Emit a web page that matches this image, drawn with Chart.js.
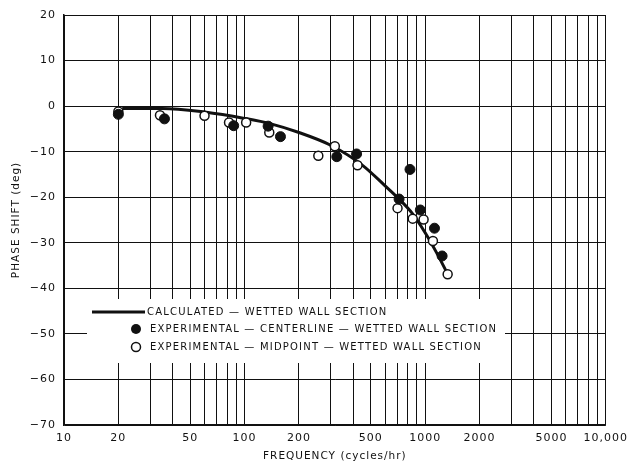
<!DOCTYPE html>
<html>
<head>
<meta charset="utf-8">
<script src="https://cdn.jsdelivr.net/npm/chart.js@4.4.1/dist/chart.umd.min.js"></script>
<style>
  html,body{margin:0;padding:0;background:#fff}
  #wrap{width:632px;height:466px}
</style>
</head>
<body>
<div id="wrap"><canvas id="chartPhase" width="632" height="466"></canvas></div>
<script>
// calculated curve (wetted wall section)
const curveFreq  = [21, 35, 60, 100, 140, 200, 300, 450, 600, 700, 850, 1000, 1150, 1330];
const curvePhase = [-0.5, -0.5, -1.3, -2.7, -3.9, -5.8, -8.6, -13.0, -17.5, -20.0, -23.6, -27.8, -32.0, -36.8];

// experimental, centerline (filled)
const centerFreq  = [20, 36, 87, 135, 158, 324, 417, 717, 824, 940, 1126, 1241];
const centerPhase = [-1.8, -2.8, -4.3, -4.4, -6.7, -11.1, -10.5, -20.4, -13.9, -22.8, -26.8, -32.9];

// experimental, midpoint (open)
const midFreq  = [20, 34, 60, 82, 102, 137, 256, 316, 422, 703, 853, 980, 1104, 1332];
const midPhase = [-1.2, -2.0, -2.1, -3.6, -3.6, -5.8, -10.9, -8.8, -13.0, -22.4, -24.7, -24.9, -29.6, -36.9];

// log paper grid + labelled ticks
const gridFreq = [10,20,30,40,50,60,70,80,90,100,200,300,400,500,600,700,800,900,1000,2000,3000,4000,5000,6000,7000,8000,9000,10000];
const labelFreq = [10,20,50,100,200,500,1000,2000,5000,10000];
const yTicks = [20,10,0,-10,-20,-30,-40,-50,-60,-70];

const legendLabels = [
  'CALCULATED \u2014 WETTED WALL SECTION',
  'EXPERIMENTAL \u2014 CENTERLINE \u2014 WETTED WALL SECTION',
  'EXPERIMENTAL \u2014 MIDPOINT \u2014 WETTED WALL SECTION'
];

const pts = (xs, ys) => xs.map((x,i)=>({x:x, y:ys[i]}));
const FONT = "'DejaVu Sans', sans-serif";
const INK = '#111';

// spaced lettering like the original drawing
const spacing = {
  id:'spacing',
  beforeDraw(chart){ chart.ctx.letterSpacing = '1px'; }
};

// legend box sits inside the plot, covering the grid
const boxLegend = {
  id:'boxLegend',
  beforeDatasetsDraw(chart){
    const ctx = chart.ctx, a = chart.chartArea;
    const x0 = a.left + 23, y0 = a.top + 284;
    ctx.save();
    ctx.fillStyle = '#fff';
    ctx.fillRect(x0, y0, 418, 64);
    ctx.font = '10px ' + FONT;
    ctx.letterSpacing = '1.2px';
    ctx.fillStyle = INK;
    ctx.textBaseline = 'middle';
    // line sample
    ctx.strokeStyle = INK; ctx.lineWidth = 3;
    ctx.beginPath(); ctx.moveTo(x0+5, y0+13); ctx.lineTo(x0+58, y0+13); ctx.stroke();
    ctx.fillText(legendLabels[0], x0+60, y0+13);
    // filled dot
    ctx.beginPath(); ctx.arc(x0+49, y0+30, 5, 0, Math.PI*2); ctx.fill();
    ctx.fillText(legendLabels[1], x0+63, y0+30);
    // open dot
    ctx.lineWidth = 1.5;
    ctx.beginPath(); ctx.arc(x0+49, y0+48, 4.5, 0, Math.PI*2); ctx.stroke();
    ctx.fillText(legendLabels[2], x0+63, y0+48);
    ctx.restore();
  }
};

new Chart(document.getElementById('chartPhase'), {
  type:'scatter',
  data:{
    datasets:[
      { label:legendLabels[0], data:pts(curveFreq, curvePhase), showLine:true,
        borderColor:INK, borderWidth:3, pointRadius:0, cubicInterpolationMode:'monotone', order:3 },
      { label:legendLabels[1], data:pts(centerFreq, centerPhase),
        pointRadius:5, pointBackgroundColor:INK, pointBorderColor:INK, pointBorderWidth:1, order:1 },
      { label:legendLabels[2], data:pts(midFreq, midPhase),
        pointRadius:4.5, pointBackgroundColor:'#fff', pointBorderColor:INK, pointBorderWidth:1.5, order:2 }
    ]
  },
  options:{
    responsive:false, animation:false,
    layout:{ padding:{ top:15, right:21, left:0, bottom:0 } },
    plugins:{ legend:{display:false}, tooltip:{enabled:false} },
    scales:{
      x:{
        type:'logarithmic', min:10, max:10000,
        afterBuildTicks:s=>{ s.ticks = gridFreq.map(v=>({value:v})); },
        afterFit:s=>{ s.height = 41; },
        grid:{ color:INK, lineWidth:1, drawTicks:false },
        border:{ color:INK, width:1.5 },
        ticks:{ autoSkip:false, maxRotation:0, padding:7, color:INK, font:{family:FONT, size:11},
          callback:v=> labelFreq.includes(v) ? (v===10000 ? '10,000' : String(v)) : '' },
        title:{ display:true, text:'FREQUENCY (cycles/hr)', color:INK, font:{family:FONT, size:10.5}, padding:{top:0,bottom:3} }
      },
      y:{
        min:-70, max:20,
        afterBuildTicks:s=>{ s.ticks = yTicks.map(v=>({value:v})); },
        afterFit:s=>{ s.width = 64; },
        grid:{ color:INK, lineWidth:1, drawTicks:false },
        border:{ color:INK, width:1.5 },
        ticks:{ padding:8, color:INK, font:{family:FONT, size:11},
          callback:v=> v<0 ? '\u2212' + Math.abs(v) : String(v) },
        title:{ display:true, text:'PHASE SHIFT (deg)', color:INK, font:{family:FONT, size:10.5}, padding:{top:10,bottom:0} }
      }
    }
  },
  plugins:[spacing, boxLegend]
});
</script>
</body>
</html>
